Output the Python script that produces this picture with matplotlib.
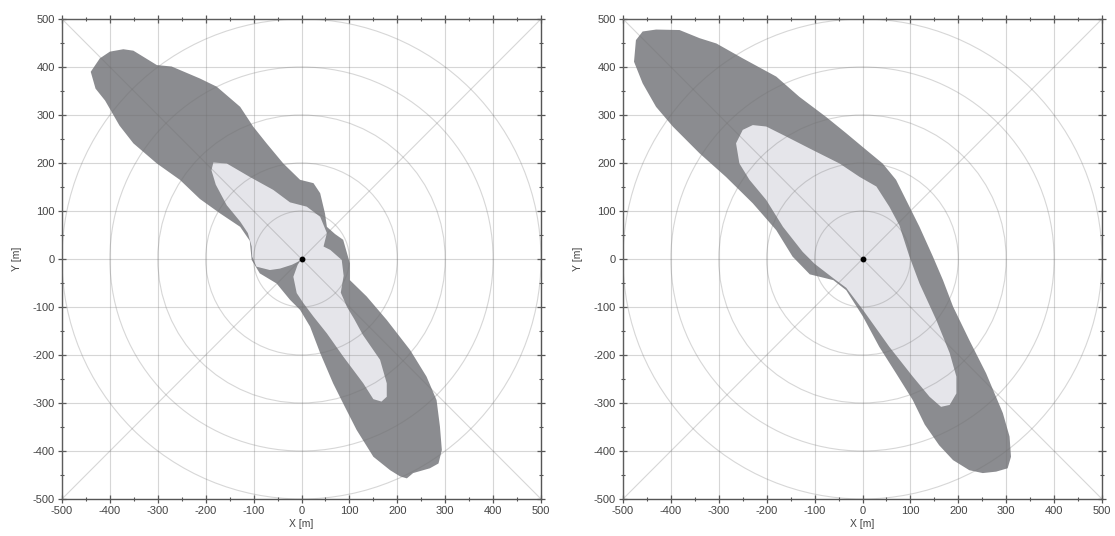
import numpy as np
import matplotlib
matplotlib.use("Agg")
import matplotlib.pyplot as plt
from matplotlib.patches import Polygon, Circle

plt.rcParams['font.family'] = ['Liberation Sans', 'DejaVu Sans']
plt.rcParams['axes.unicode_minus'] = False

# ---- data (metres) ----
left_outer_x = [-440, -421, -400, -372, -351, -302, -271, -212, -177, -128, -101, -73, -38, -3, 25, 39, 49, 53, 70, 87,
                101, 101, 136, 178, 227, 261, 282, 289, 293, 286, 268, 233, 220, 206, 185, 150, 115, 87, 66, 39, 18,
                -3, -10, -24, -52, -87, -104, -108, -128, -170, -212, -254, -302, -351, -380, -410, -430]
left_outer_y = [390, 418, 432, 437, 434, 404, 401, 376, 359, 317, 276, 241, 199, 165, 158, 137, 95, 67, 52, 40,
                -9, -44, -78, -127, -190, -245, -294, -349, -398, -426, -436, -446, -457, -453, -440, -412, -356, -301,
                -259, -196, -141, -106, -99, -85, -51, -30, -2, 38, 67, 95, 125, 165, 199, 241, 278, 330, 355]

left_inner_x = [-184, -156, -108, -59, -24, 11, 39, 53, 46, 60, 84, 88, 82, 95, 110, 128, 164, 178, 178, 167, 150,
                129, 87, 53, 25, 4, -10, -17, -8, -2, -20, -45, -66, -94, -103, -104, -112, -128, -156, -179, -188]
left_inner_y = [201, 199, 171, 144, 118, 109, 88, 54, 26, 19, -2, -35, -70, -100, -125, -158, -210, -259, -287,
                -297, -292, -259, -203, -155, -120, -92, -71, -37, -12, -3, -12, -20, -23, -16, 5, 26, 54, 78, 112,
                155, 185]

right_outer_x = [-477, -473, -459, -431, -382, -340, -305, -250, -180, -132, -76, -34, 8, 42, 70, 91, 119, 147,
                 168, 189, 223, 258, 293, 307, 310, 303, 279, 251, 223, 189, 160, 130, 105, 70, 35, 1, -34, -61, -110,
                 -146, -180, -229, -285, -340, -396, -431, -459]
right_outer_y = [411, 456, 474, 478, 477, 460, 449, 418, 380, 338, 296, 262, 227, 199, 165, 123, 67, 5, -44, -99,
                 -169, -238, -321, -370, -412, -436, -443, -446, -440, -419, -388, -345, -294, -238, -183, -120, -65,
                 -44, -32, 5, 60, 116, 171, 220, 276, 317, 366]

right_inner_x = [-264, -250, -229, -201, -159, -104, -48, -6, 29, 56, 77, 98, 119, 154, 182, 196, 196, 182, 164,
                 140, 105, 56, 1, -34, -61, -100, -125, -166, -201, -236, -257]
right_inner_y = [241, 269, 279, 276, 255, 227, 199, 171, 151, 109, 70, 5, -51, -127, -196, -245, -280, -304, -308,
                 -287, -245, -183, -106, -60, -40, -10, 15, 67, 123, 165, 199]

ticks = [-500, -400, -300, -200, -100, 0, 100, 200, 300, 400, 500]
radii = [100, 200, 300, 400, 500]

DARK = '#8b8c90'
LIGHT = '#e5e5ea'
GRID = '#6f6f6f'

fig = plt.figure(figsize=(11.15, 5.36), dpi=100)
ax1 = fig.add_axes([62 / 1115, 37 / 536, 479 / 1115, 480 / 536])
ax2 = fig.add_axes([623 / 1115, 37 / 536, 479 / 1115, 480 / 536])


def draw(ax, ox, oy, ix, iy):
    ax.add_patch(Polygon(np.column_stack([ox, oy]), closed=True, facecolor=DARK, edgecolor='none', zorder=1))
    ax.add_patch(Polygon(np.column_stack([ix, iy]), closed=True, facecolor=LIGHT, edgecolor='none', zorder=2))
    for t in ticks:
        ax.axvline(t, color=GRID, alpha=0.28, lw=0.8, zorder=3)
        ax.axhline(t, color=GRID, alpha=0.28, lw=0.8, zorder=3)
    for r in radii:
        ax.add_patch(Circle((0, 0), r, fill=False, edgecolor=GRID, alpha=0.28, lw=0.8, zorder=3))
    ax.plot([-500, 500], [-500, 500], color=GRID, alpha=0.28, lw=0.8, zorder=3)
    ax.plot([-500, 500], [500, -500], color=GRID, alpha=0.28, lw=0.8, zorder=3)
    ax.plot([0], [0], 'o', color='black', ms=3.2, zorder=5)
    ax.set_xlim(-500, 500)
    ax.set_ylim(-500, 500)
    ax.set_xticks(ticks)
    ax.set_yticks(ticks)
    ax.set_xticks(np.arange(-450, 500, 100), minor=True)
    ax.set_yticks(np.arange(-450, 500, 100), minor=True)
    ax.tick_params(which='major', direction='inout', length=6, width=0.9, color='#555555',
                   labelsize=8, labelcolor='#444444', top=True, right=True, pad=2)
    ax.tick_params(which='minor', direction='inout', length=3, width=0.8, color='#555555', top=True, right=True)
    for s in ax.spines.values():
        s.set_color('#555555')
        s.set_linewidth(1.0)
    ax.set_xlabel('X [m]', fontsize=7.5, color='#444444', labelpad=2)
    ax.set_ylabel('Y [m]', fontsize=7.5, color='#444444', labelpad=8)


draw(ax1, left_outer_x, left_outer_y, left_inner_x, left_inner_y)
draw(ax2, right_outer_x, right_outer_y, right_inner_x, right_inner_y)

fig.savefig('out.png', dpi=100)
